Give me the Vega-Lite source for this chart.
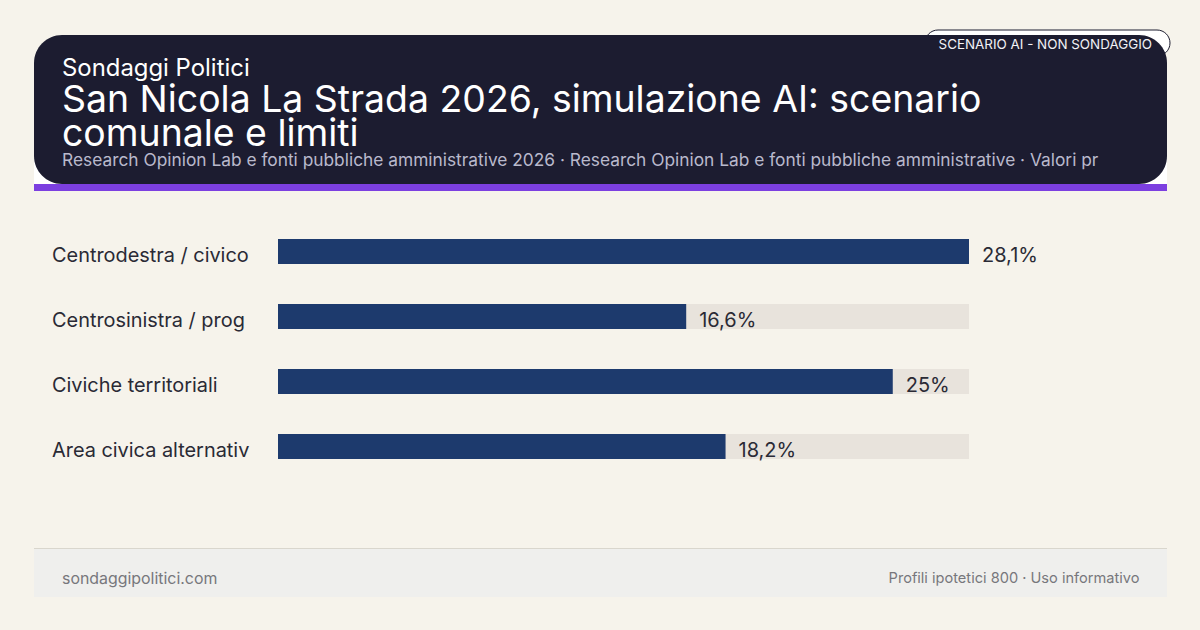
{
  "$schema": "https://vega.github.io/schema/vega-lite/v6.json",
  "background": "#f6f3eb",
  "padding": {"left": 34, "top": 29, "right": 30, "bottom": 33},
  "bounds": "flush",
  "spacing": 0,
  "config": {
    "view": {"stroke": null},
    "font": "Inter",
    "text": {"font": "Inter"}
  },
  "vconcat": [
    {
      "width": 1133,
      "height": 149,
      "layer": [
        {
          "data": {"values": [{}]},
          "mark": {"type": "rect", "fill": "#ffffff"},
          "encoding": {
            "y": {"datum": 120, "type": "quantitative", "scale": {"domain": [0, 149], "range": [0, 149], "nice": false}, "axis": null},
            "y2": {"datum": 149}
          }
        },
        {
          "data": {"values": [{"badge": "SCENARIO AI - NON SONDAGGIO"}]},
          "mark": {"type": "rect", "fill": "#ffffff", "stroke": "#1c1c30", "strokeWidth": 1, "cornerRadius": 14},
          "encoding": {
            "x": {"datum": 891, "type": "quantitative", "scale": {"domain": [0, 1133], "range": [0, 1133], "nice": false}, "axis": null},
            "x2": {"datum": 1136},
            "y": {"datum": -5, "type": "quantitative", "scale": {"domain": [0, 149], "range": [0, 149], "nice": false}, "axis": null},
            "y2": {"datum": 21}
          }
        },
        {
          "data": {"values": [{}]},
          "mark": {"type": "rect", "fill": "#1c1c30", "cornerRadius": 28}
        },
        {
          "data": {
            "values": [
              {"riga": "badge", "colonna": "destra", "testo": "SCENARIO AI - NON SONDAGGIO"},
              {"riga": "occhiello", "colonna": "sinistra", "testo": "Sondaggi Politici"},
              {"riga": "titolo1", "colonna": "sinistra", "testo": "San Nicola La Strada 2026, simulazione AI: scenario"},
              {"riga": "titolo2", "colonna": "sinistra", "testo": "comunale e limiti"},
              {"riga": "fonte", "colonna": "sinistra", "testo": "Research Opinion Lab e fonti pubbliche amministrative 2026 · Research Opinion Lab e fonti pubbliche amministrative · Valori pr"}
            ]
          },
          "encoding": {
            "x": {"field": "colonna", "type": "nominal", "scale": {"type": "point", "domain": ["sinistra", "destra"], "range": [28, 1118], "padding": 0}, "axis": null},
            "y": {"field": "riga", "type": "nominal", "scale": {"type": "point", "domain": ["badge", "occhiello", "titolo1", "titolo2", "fonte"], "range": [9, 125], "padding": 0}, "axis": null},
            "text": {"field": "testo"}
          },
          "layer": [
            {"transform": [{"filter": "datum.riga === 'badge'"}], "mark": {"type": "text", "align": "right", "fontSize": 13.4, "color": "#f2f2f6", "dy": 1}},
            {"transform": [{"filter": "datum.riga === 'occhiello'"}], "mark": {"type": "text", "align": "left", "fontSize": 23.9, "color": "#ffffff", "dy": -4}},
            {"transform": [{"filter": "datum.riga === 'titolo1'"}], "mark": {"type": "text", "align": "left", "fontSize": 37.4, "color": "#ffffff", "dy": -1}},
            {"transform": [{"filter": "datum.riga === 'titolo2'"}], "mark": {"type": "text", "align": "left", "fontSize": 37.4, "color": "#ffffff", "dy": 4}},
            {"transform": [{"filter": "datum.riga === 'fonte'"}], "mark": {"type": "text", "align": "left", "fontSize": 17.33, "color": "#b9b9cc", "dy": 1}}
          ],
          "resolve": {"scale": {"x": "shared", "y": "shared"}}
        }
      ],
      "resolve": {"scale": {"x": "independent", "y": "independent"}}
    },
    {
      "width": 1133,
      "height": 7,
      "data": {"values": [{}]},
      "mark": {"type": "rect", "fill": "#7c3fe0"}
    },
    {
      "width": 1133,
      "height": 357,
      "data": {
        "values": [
          {"lista": "Centrodestra / civico", "quota": 28.1, "etichetta": "28,1%"},
          {"lista": "Centrosinistra / prog", "quota": 16.6, "etichetta": "16,6%"},
          {"lista": "Civiche territoriali", "quota": 25, "etichetta": "25%"},
          {"lista": "Area civica alternativ", "quota": 18.2, "etichetta": "18,2%"}
        ]
      },
      "encoding": {
        "y": {
          "field": "lista",
          "type": "nominal",
          "sort": null,
          "title": null,
          "scale": {"range": [28, 288], "paddingInner": 0.6154, "paddingOuter": 0.3077},
          "axis": {
            "orient": "left",
            "offset": -17.5,
            "domain": false,
            "ticks": false,
            "grid": false,
            "labelAlign": "left",
            "labelPadding": 0,
            "labelOffset": 4,
            "labelFont": "Inter",
            "labelFontSize": 19.9,
            "labelColor": "#2a2a35",
            "labelLimit": 300
          }
        }
      },
      "layer": [
        {
          "mark": {"type": "bar", "color": "#e8e3dc"},
          "encoding": {
            "x": {"datum": 28.1, "type": "quantitative", "stack": null, "scale": {"domain": [0, 28.1], "range": [244, 935], "nice": false, "zero": false}, "axis": null}
          }
        },
        {
          "mark": {"type": "bar", "color": "#1d3a6d"},
          "encoding": {
            "x": {"field": "quota", "type": "quantitative", "stack": null, "scale": {"domain": [0, 28.1], "range": [244, 935], "nice": false, "zero": false}, "axis": null}
          }
        },
        {
          "mark": {"type": "text", "align": "left", "dx": 13, "dy": 4, "fontSize": 20, "color": "#2a2a35"},
          "encoding": {
            "x": {"field": "quota", "type": "quantitative", "stack": null},
            "text": {"field": "etichetta"}
          }
        }
      ]
    },
    {
      "width": 1133,
      "height": 1,
      "data": {"values": [{}]},
      "mark": {"type": "rect", "fill": "#d9d6cd"}
    },
    {
      "width": 1133,
      "height": 48,
      "layer": [
        {
          "data": {"values": [{}]},
          "mark": {"type": "rect", "fill": "#efefed"}
        },
        {
          "data": {
            "values": [
              {"colonna": "sinistra", "testo": "sondaggipolitici.com"},
              {"colonna": "destra", "testo": "Profili ipotetici 800 · Uso informativo"}
            ]
          },
          "encoding": {
            "x": {"field": "colonna", "type": "nominal", "scale": {"type": "point", "domain": ["sinistra", "destra"], "range": [28, 1105.5], "padding": 0}, "axis": null},
            "text": {"field": "testo"}
          },
          "layer": [
            {"transform": [{"filter": "datum.colonna === 'sinistra'"}], "mark": {"type": "text", "align": "left", "fontSize": 15.9, "color": "#77777c", "dy": 6}},
            {"transform": [{"filter": "datum.colonna === 'destra'"}], "mark": {"type": "text", "align": "right", "fontSize": 14.6, "color": "#77777c", "dy": 6}}
          ]
        }
      ]
    }
  ]
}
